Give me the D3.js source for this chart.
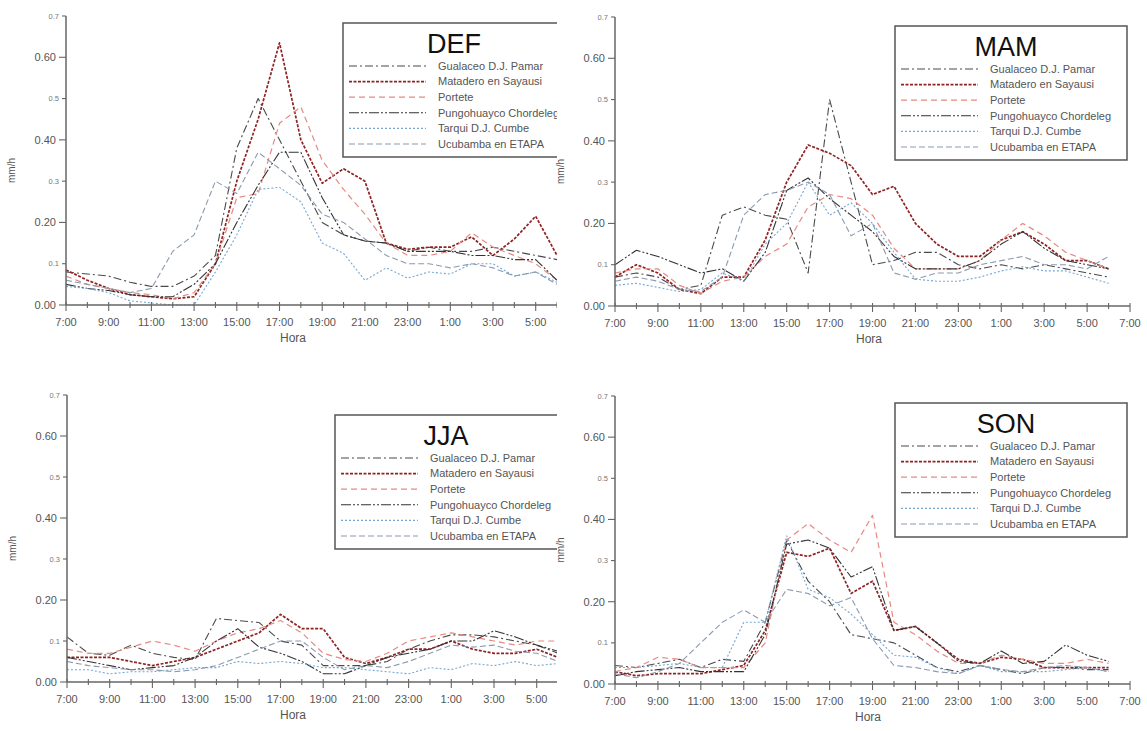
<!DOCTYPE html>
<html>
<head>
<meta charset="utf-8">
<script src="https://cdn.jsdelivr.net/npm/d3@7"></script>
<style>
  html, body { margin: 0; padding: 0; background: #fff; }
  svg { display: block; font-family: "Liberation Sans", Arial, sans-serif; }
</style>
</head>
<body>
<svg id="chart" width="1147" height="731"></svg>
<script>
// Stations (legend order)
const stations = [
  "Gualaceo D.J. Pamar",
  "Matadero en Sayausi",
  "Portete",
  "Pungohuayco Chordeleg",
  "Tarqui D.J. Cumbe",
  "Ucubamba en ETAPA"
];

// Hour labels, every two hours starting at 7:00
const hourLabels = ["7:00","9:00","11:00","13:00","15:00","17:00","19:00","21:00","23:00","1:00","3:00","5:00","7:00"];

// Y tick values and their labels
const yTicks = [0, 0.1, 0.2, 0.3, 0.4, 0.5, 0.6, 0.7];
const yTickLabels = ["0.00","0.1","0.20","0.3","0.40","0.5","0.60","0.7"];

// Mean hourly intensity (mm/h), 7:00 ... 6:00, one row per station
const valuesDEF = [
  [0.08,0.075,0.07,0.055,0.045,0.045,0.07,0.12,0.38,0.50,0.40,0.30,0.20,0.17,0.155,0.15,0.13,0.14,0.13,0.13,0.14,0.13,0.12,0.11],
  [0.085,0.06,0.04,0.025,0.02,0.015,0.02,0.10,0.30,0.45,0.635,0.40,0.295,0.33,0.30,0.15,0.135,0.14,0.14,0.165,0.12,0.16,0.215,0.12],
  [0.07,0.05,0.04,0.03,0.025,0.015,0.03,0.10,0.26,0.27,0.44,0.48,0.35,0.28,0.22,0.15,0.12,0.12,0.13,0.175,0.14,0.12,0.10,0.06],
  [0.05,0.04,0.035,0.025,0.02,0.02,0.05,0.10,0.20,0.29,0.37,0.37,0.26,0.17,0.155,0.15,0.13,0.13,0.13,0.12,0.12,0.11,0.11,0.06],
  [0.045,0.04,0.03,0.01,0.005,0.0,0.0,0.08,0.17,0.28,0.285,0.25,0.15,0.125,0.06,0.09,0.065,0.08,0.075,0.10,0.10,0.07,0.08,0.055],
  [0.06,0.05,0.04,0.03,0.04,0.13,0.17,0.30,0.27,0.37,0.33,0.29,0.22,0.20,0.16,0.12,0.10,0.10,0.09,0.10,0.09,0.07,0.08,0.05]
];
const valuesMAM = [
  [0.07,0.08,0.07,0.04,0.05,0.22,0.24,0.22,0.21,0.08,0.50,0.30,0.10,0.11,0.13,0.13,0.10,0.09,0.10,0.09,0.10,0.09,0.08,0.07],
  [0.07,0.10,0.08,0.04,0.03,0.07,0.07,0.16,0.30,0.39,0.37,0.34,0.27,0.29,0.20,0.15,0.12,0.12,0.16,0.18,0.15,0.11,0.11,0.09],
  [0.08,0.09,0.09,0.05,0.03,0.06,0.07,0.12,0.15,0.24,0.27,0.26,0.22,0.14,0.09,0.09,0.09,0.11,0.16,0.20,0.17,0.13,0.11,0.09],
  [0.10,0.135,0.12,0.10,0.08,0.09,0.06,0.13,0.28,0.31,0.26,0.22,0.18,0.12,0.09,0.09,0.09,0.11,0.15,0.18,0.14,0.11,0.10,0.09],
  [0.05,0.055,0.045,0.035,0.04,0.08,0.06,0.15,0.20,0.30,0.22,0.25,0.20,0.13,0.065,0.06,0.06,0.07,0.085,0.095,0.085,0.085,0.07,0.055],
  [0.06,0.07,0.06,0.04,0.035,0.07,0.22,0.27,0.28,0.30,0.27,0.17,0.20,0.08,0.065,0.08,0.08,0.10,0.11,0.12,0.10,0.10,0.09,0.12]
];
const valuesJJA = [
  [0.11,0.07,0.065,0.09,0.07,0.06,0.055,0.155,0.15,0.145,0.10,0.09,0.04,0.04,0.04,0.05,0.08,0.10,0.115,0.115,0.11,0.10,0.09,0.07],
  [0.06,0.06,0.06,0.05,0.04,0.05,0.06,0.08,0.10,0.12,0.165,0.13,0.13,0.06,0.045,0.06,0.08,0.08,0.10,0.08,0.07,0.07,0.08,0.06],
  [0.08,0.07,0.07,0.085,0.10,0.09,0.075,0.10,0.12,0.13,0.15,0.12,0.07,0.055,0.05,0.07,0.10,0.11,0.12,0.11,0.10,0.09,0.10,0.10],
  [0.06,0.05,0.04,0.03,0.035,0.04,0.06,0.10,0.13,0.085,0.07,0.05,0.02,0.02,0.04,0.06,0.07,0.08,0.10,0.10,0.125,0.11,0.09,0.075],
  [0.03,0.03,0.02,0.025,0.025,0.03,0.035,0.035,0.05,0.045,0.05,0.045,0.035,0.035,0.03,0.025,0.02,0.035,0.03,0.045,0.04,0.05,0.04,0.045],
  [0.05,0.04,0.035,0.03,0.03,0.025,0.03,0.04,0.06,0.08,0.10,0.10,0.06,0.03,0.04,0.035,0.05,0.07,0.09,0.085,0.09,0.075,0.07,0.05]
];
const valuesSON = [
  [0.045,0.04,0.05,0.06,0.04,0.06,0.055,0.15,0.35,0.25,0.20,0.12,0.11,0.10,0.07,0.04,0.03,0.045,0.035,0.025,0.04,0.04,0.035,0.035],
  [0.03,0.02,0.025,0.025,0.025,0.035,0.045,0.13,0.32,0.31,0.33,0.22,0.25,0.13,0.14,0.10,0.06,0.05,0.065,0.06,0.04,0.04,0.04,0.04],
  [0.03,0.04,0.065,0.06,0.04,0.04,0.04,0.10,0.35,0.39,0.35,0.32,0.41,0.15,0.12,0.08,0.05,0.05,0.07,0.06,0.05,0.05,0.06,0.05],
  [0.02,0.03,0.035,0.04,0.03,0.03,0.03,0.12,0.34,0.35,0.33,0.26,0.285,0.13,0.14,0.10,0.055,0.05,0.08,0.05,0.055,0.095,0.07,0.055],
  [0.04,0.04,0.045,0.05,0.04,0.04,0.15,0.15,0.36,0.23,0.21,0.17,0.12,0.07,0.065,0.04,0.025,0.045,0.03,0.03,0.03,0.035,0.04,0.03],
  [0.025,0.015,0.03,0.05,0.10,0.15,0.18,0.15,0.23,0.22,0.19,0.21,0.11,0.045,0.04,0.03,0.025,0.045,0.035,0.03,0.04,0.045,0.04,0.03]
];

// Line styles per station
const styles = [
  { color: "#4a4a4a", dash: "8,3,2,3",        width: 1.1 },
  { color: "#8e2323", dash: "3,1.5",          width: 1.7 },
  { color: "#e58a80", dash: "6,4",            width: 1.2 },
  { color: "#333333", dash: "10,2,2,2,2,2",   width: 1.1 },
  { color: "#74a7d6", dash: "2,2",            width: 1.1 },
  { color: "#8c9aae", dash: "6,3",            width: 1.1 }
];

// Panel placement
const panels = [
  { name: "DEF", values: valuesDEF, x0: 66,  y0: 305, yTop: 16,  pxPerHour: 21.35, clipped: true,  hora: 293, legend: [343, 23] },
  { name: "MAM", values: valuesMAM, x0: 615, y0: 306, yTop: 17,  pxPerHour: 21.46, clipped: false, hora: 869, legend: [895, 26] },
  { name: "JJA", values: valuesJJA, x0: 67,  y0: 682, yTop: 395, pxPerHour: 21.35, clipped: true,  hora: 293, legend: [335, 415] },
  { name: "SON", values: valuesSON, x0: 615, y0: 684, yTop: 396, pxPerHour: 21.46, clipped: false, hora: 868, legend: [895, 403] }
];

const svg = d3.select("#chart");
const defs = svg.append("defs");
defs.append("clipPath").attr("id", "clipLeft")
  .append("rect").attr("x", 0).attr("y", 0).attr("width", 557).attr("height", 731);

const axisColor = "#666";
const textColor = "#555";

panels.forEach(p => {
  const g = svg.append("g");
  if (p.clipped) g.attr("clip-path", "url(#clipLeft)");

  const x = d3.scaleLinear().domain([0, 24]).range([p.x0, p.x0 + 24 * p.pxPerHour]);
  const y = d3.scaleLinear().domain([0, 0.7]).range([p.y0, p.yTop]);

  // series
  const line = d3.line().x((d, i) => x(i)).y(d => y(d));
  p.values.forEach((vals, k) => {
    g.append("path")
      .datum(vals)
      .attr("d", line)
      .attr("fill", "none")
      .attr("stroke", styles[k].color)
      .attr("stroke-width", styles[k].width)
      .attr("stroke-dasharray", styles[k].dash)
      .attr("stroke-linejoin", "round");
  });

  // x axis: hourly minor ticks, labelled ticks every two hours
  const xAxis = g.append("g");
  xAxis.append("line")
    .attr("x1", x(0)).attr("x2", x(24))
    .attr("y1", y(0)).attr("y2", y(0))
    .attr("stroke", axisColor).attr("stroke-width", 1.5);
  d3.range(0, 25).forEach(h => {
    const major = h % 2 === 0;
    xAxis.append("line")
      .attr("x1", x(h)).attr("x2", x(h))
      .attr("y1", y(0) - 3).attr("y2", y(0) + (major ? 6 : 3))
      .attr("stroke", axisColor).attr("stroke-width", 1.1);
  });
  hourLabels.forEach((lab, i) => {
    xAxis.append("text")
      .attr("x", x(i * 2)).attr("y", y(0) + 21)
      .attr("text-anchor", "middle")
      .attr("font-size", 11)
      .attr("fill", textColor)
      .text(lab);
  });
  xAxis.append("text")
    .attr("x", p.hora).attr("y", y(0) + 37)
    .attr("text-anchor", "middle")
    .attr("font-size", 12)
    .attr("fill", textColor)
    .text("Hora");

  // y axis
  const yAxis = g.append("g");
  yAxis.append("line")
    .attr("x1", x(0)).attr("x2", x(0))
    .attr("y1", y(0)).attr("y2", y(0.7))
    .attr("stroke", axisColor).attr("stroke-width", 1.5);
  yTicks.forEach((v, i) => {
    const major = i % 2 === 0;
    yAxis.append("line")
      .attr("x1", x(0) - (major ? 7 : 4)).attr("x2", x(0))
      .attr("y1", y(v)).attr("y2", y(v))
      .attr("stroke", axisColor).attr("stroke-width", 1.1);
    yAxis.append("text")
      .attr("x", x(0) - (major ? 10 : 7)).attr("y", y(v))
      .attr("dy", "0.35em")
      .attr("text-anchor", "end")
      .attr("font-size", major ? 11 : 7.5)
      .attr("fill", major ? textColor : "#777")
      .text(yTickLabels[i]);
  });
  yAxis.append("text")
    .attr("transform", `translate(${x(0) - 51},${(y(0) + y(0.7)) / 2 + 10}) rotate(-90)`)
    .attr("text-anchor", "middle")
    .attr("font-size", 10)
    .attr("fill", textColor)
    .text("mm/h");

  // legend
  const [lx, ly] = p.legend;
  const lg = g.append("g").attr("transform", `translate(${lx},${ly})`);
  lg.append("rect")
    .attr("x", 0).attr("y", 0).attr("width", 232).attr("height", 134)
    .attr("fill", "#fff").attr("stroke", "#555").attr("stroke-width", 1.5);
  lg.append("text")
    .attr("x", 111).attr("y", 21)
    .attr("dy", "0.35em")
    .attr("text-anchor", "middle")
    .attr("font-size", 27)
    .attr("fill", "#111")
    .text(p.name);
  stations.forEach((s, k) => {
    const ry = 43 + 15.6 * k;
    lg.append("line")
      .attr("x1", 6).attr("x2", 83)
      .attr("y1", ry).attr("y2", ry)
      .attr("stroke", styles[k].color)
      .attr("stroke-width", styles[k].width)
      .attr("stroke-dasharray", styles[k].dash);
    lg.append("text")
      .attr("x", 95).attr("y", ry)
      .attr("dy", "0.35em")
      .attr("font-size", 11)
      .attr("fill", textColor)
      .text(s);
  });
});
</script>
</body>
</html>
